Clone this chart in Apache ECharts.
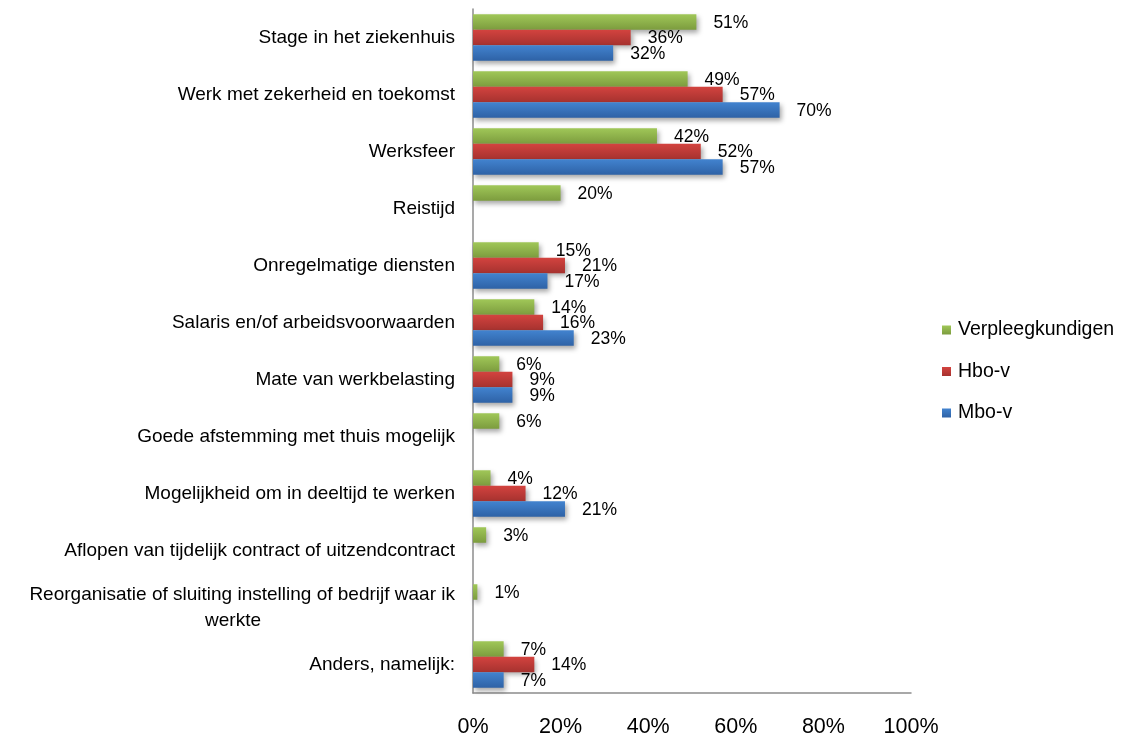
<!DOCTYPE html>
<html>
<head>
<meta charset="utf-8">
<script src="https://cdn.jsdelivr.net/npm/echarts@6/dist/echarts.min.js"></script>
<style>
  html, body { margin: 0; padding: 0; background: #fff; }
  #main { width: 1124px; height: 740px; }
</style>
</head>
<body>
<div id="main"></div>
<script type="text/javascript">
// categorieen, van boven naar beneden
var categories = [
    'Stage in het ziekenhuis',
    'Werk met zekerheid en toekomst',
    'Werksfeer',
    'Reistijd',
    'Onregelmatige diensten',
    'Salaris en/of arbeidsvoorwaarden',
    'Mate van werkbelasting',
    'Goede afstemming met thuis mogelijk',
    'Mogelijkheid om in deeltijd te werken',
    'Aflopen van tijdelijk contract of uitzendcontract',
    'Reorganisatie of sluiting instelling of bedrijf waar ik werkte',
    'Anders, namelijk:'
];
// percentages per groep (null = geen waarde)
var verpleegkundigen = [51, 49, 42, 20, 15, 14, 6, 6, 4, 3, 1, 7];
var hbov = [36, 57, 52, null, 21, 16, 9, null, 12, null, null, 14];
var mbov = [32, 70, 57, null, 17, 23, 9, null, 21, null, null, 7];
var xTicks = [0, 20, 40, 60, 80, 100];

var font = 'Liberation Sans';

function grad(top, bottom) {
    return new echarts.graphic.LinearGradient(0, 0, 0, 1, [
        {offset: 0, color: top},
        {offset: 1, color: bottom}
    ]);
}

function makeSeries(name, data, top, bottom) {
    return {
        name: name,
        type: 'bar',
        data: data,
        barWidth: 15.5,
        barGap: '0%',
        itemStyle: {
            color: grad(top, bottom),
            shadowColor: 'rgba(0,0,0,0.35)',
            shadowBlur: 5,
            shadowOffsetX: 2,
            shadowOffsetY: 3
        },
        label: {
            show: true,
            position: 'right',
            distance: 17,
            offset: [0, 1],
            formatter: '{c}%',
            fontFamily: font,
            fontSize: 17.5,
            color: '#000'
        }
    };
}

var myChart = echarts.init(document.getElementById('main'));
var option = {
    animation: false,
    textStyle: {fontFamily: font},
    grid: {
        left: 473,
        right: 213,
        top: 9,
        bottom: 47
    },
    legend: {
        orient: 'vertical',
        left: 937,
        top: 315,
        itemWidth: 9,
        itemHeight: 9,
        itemGap: 21.5,
        icon: 'rect',
        data: ['Verpleegkundigen', 'Hbo-v', 'Mbo-v'],
        textStyle: {fontFamily: font, fontSize: 19.5, color: '#000', lineHeight: 20, padding: [0, 0, 0, 2]}
    },
    xAxis: {
        type: 'value',
        min: 0,
        max: 100,
        interval: 20,
        axisLine: {show: true, lineStyle: {color: '#8c8c8c', width: 1.5}},
        axisTick: {show: false},
        splitLine: {show: false},
        axisLabel: {
            margin: 23,
            fontFamily: font,
            fontSize: 21.5,
            color: '#000',
            formatter: function (v) {
                return xTicks.indexOf(v) > -1 ? v + '%' : '';
            }
        }
    },
    yAxis: {
        type: 'category',
        inverse: true,
        data: categories,
        axisLine: {show: true, lineStyle: {color: '#8c8c8c', width: 1.5}},
        axisTick: {show: false},
        axisLabel: {
            margin: 18,
            fontFamily: font,
            fontSize: 19,
            color: '#000',
            lineHeight: 26,
            formatter: function (v) {
                // lange tekst over twee regels, tweede regel gecentreerd
                if (v.length > 55) {
                    var i = v.lastIndexOf(' ');
                    return '{a|' + v.slice(0, i) + '}\n{b|' + v.slice(i + 1) + '}';
                }
                return v;
            },
            rich: {
                a: {fontFamily: font, fontSize: 19, color: '#000', lineHeight: 26},
                b: {fontFamily: font, fontSize: 19, color: '#000', lineHeight: 26, padding: [0, 194, 0, 0]}
            }
        }
    },
    series: [
        makeSeries('Verpleegkundigen', verpleegkundigen, '#a0c758', '#7c9c3e'),
        makeSeries('Hbo-v', hbov, '#d3433f', '#a6322f'),
        makeSeries('Mbo-v', mbov, '#4283cf', '#2e62a6')
    ]
};
myChart.setOption(option);
</script>
</body>
</html>
